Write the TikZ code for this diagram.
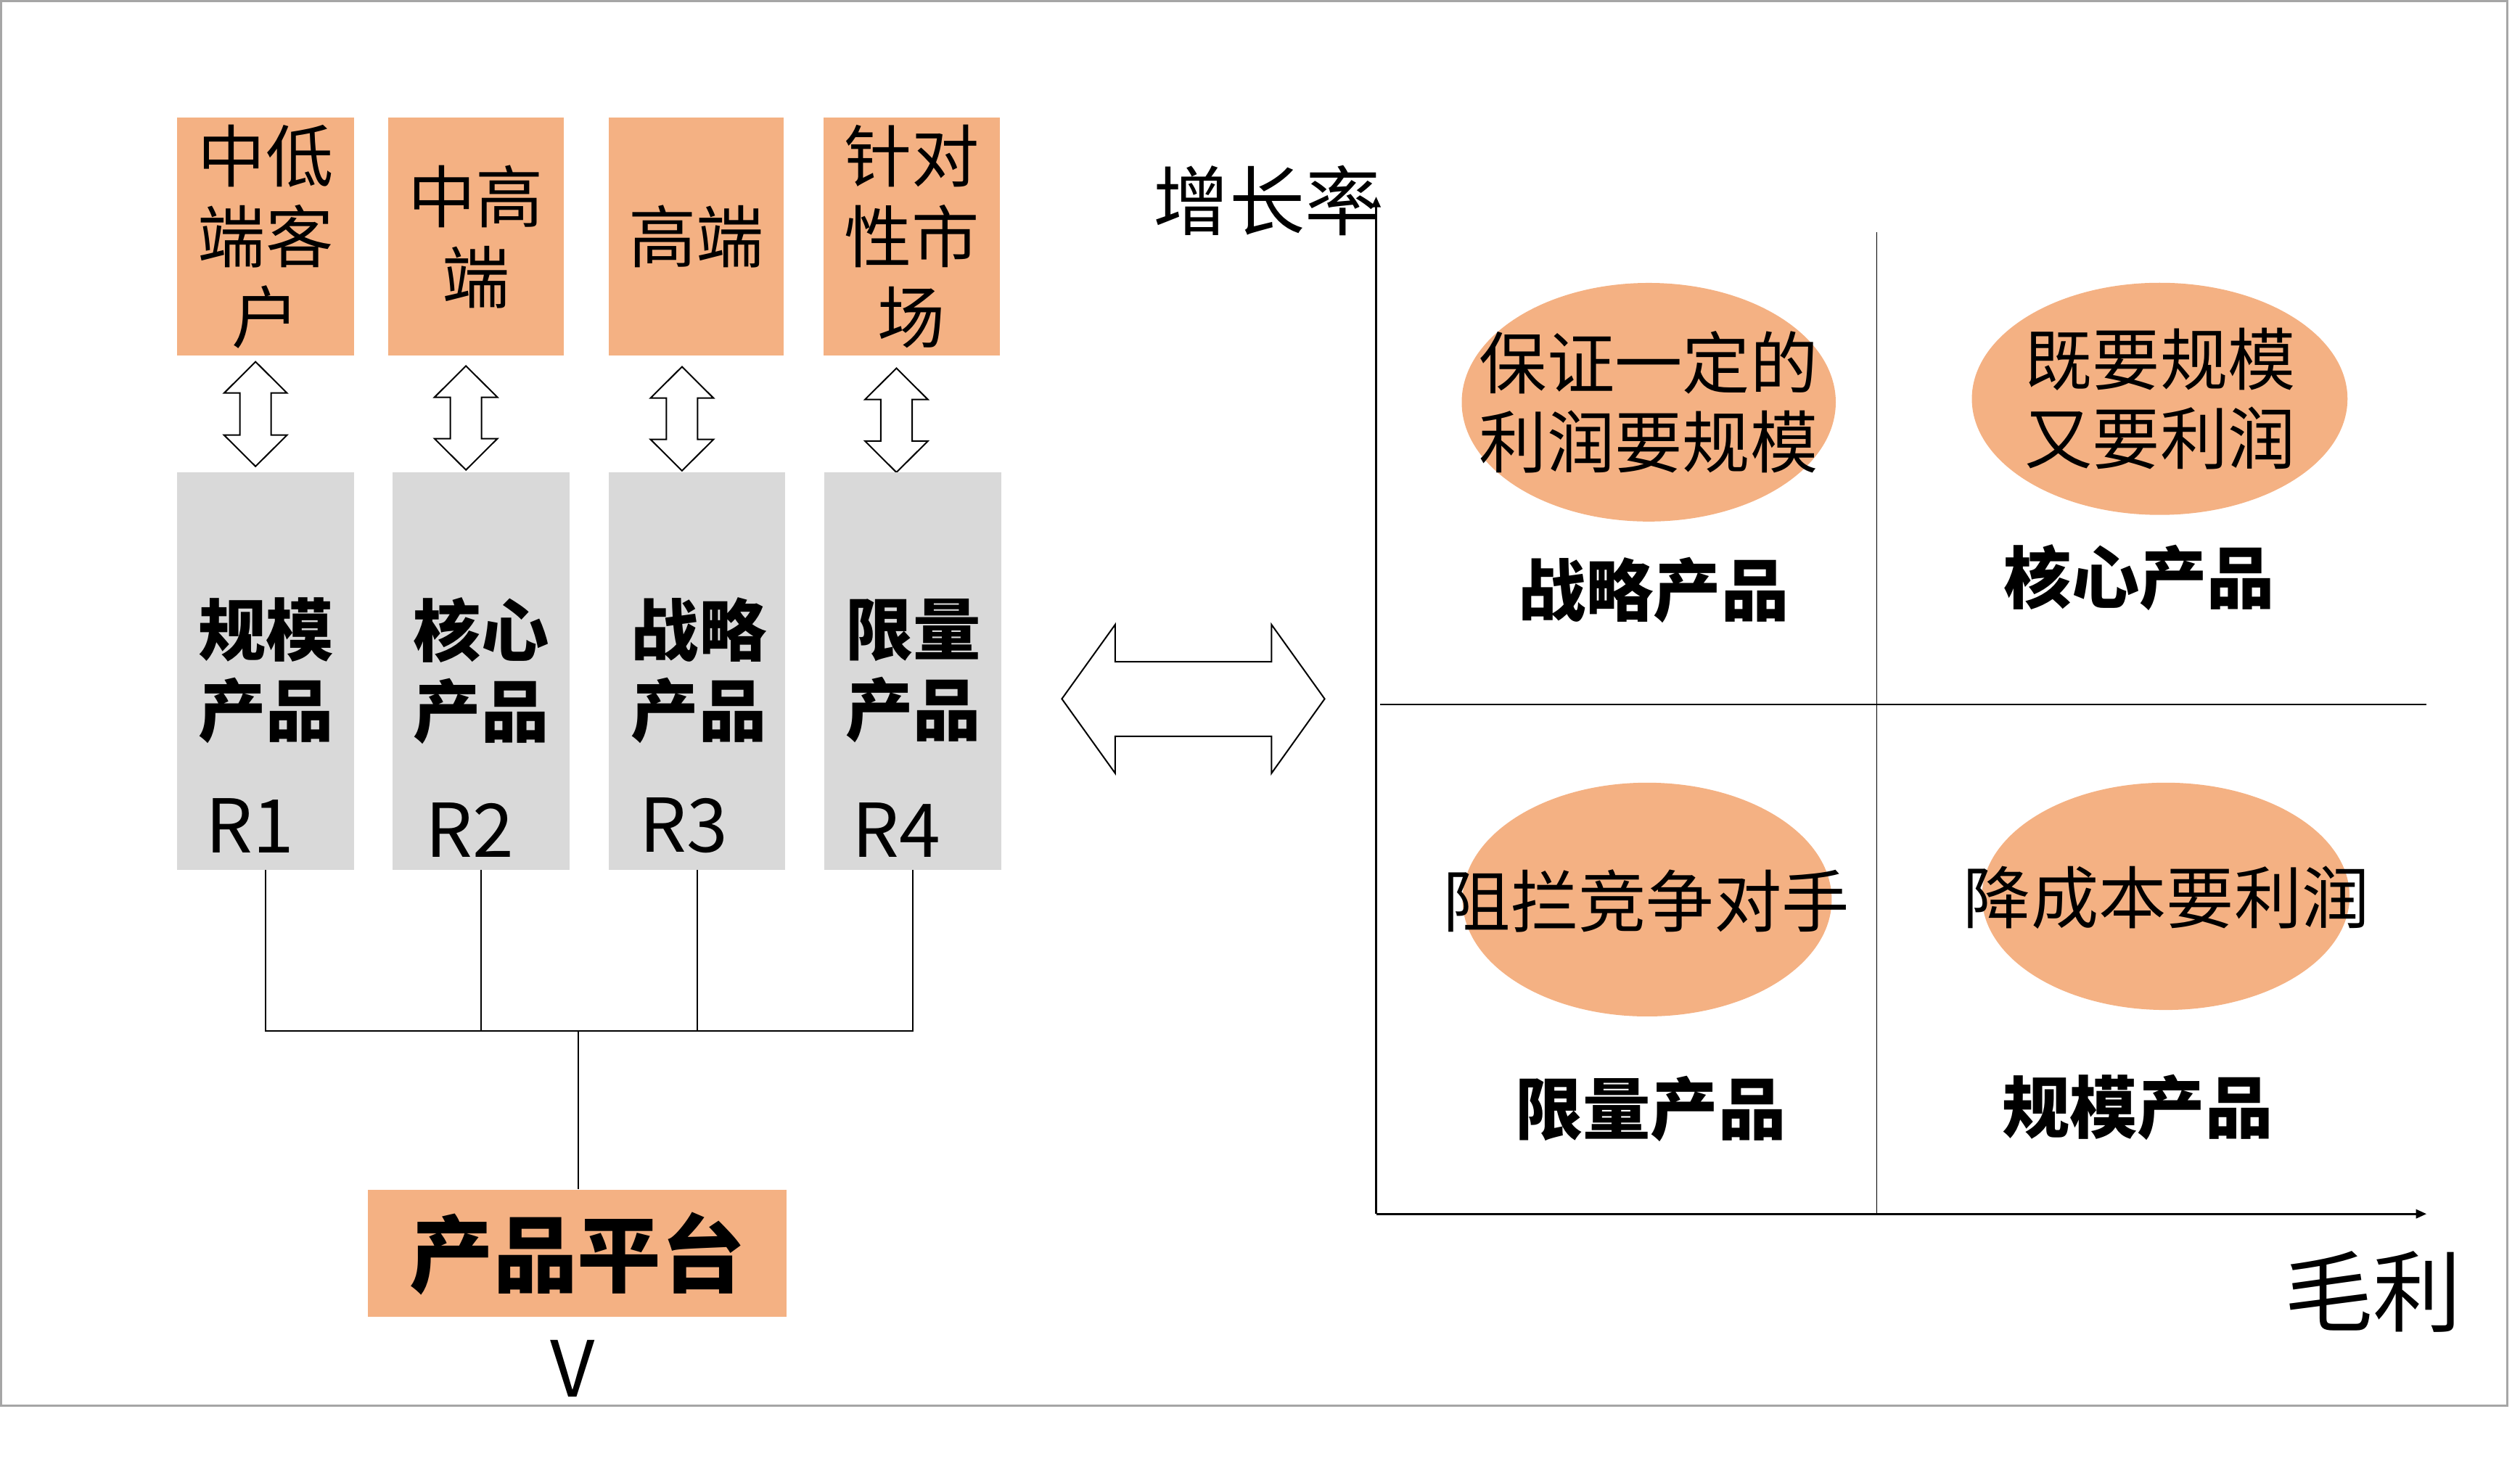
\documentclass[tikz,border=0pt]{standalone}
\usepackage{fontspec}
\setmainfont{Noto Sans CJK SC}
\usetikzlibrary{shapes.geometric,arrows.meta}
\definecolor{orng}{HTML}{F4B183}
\definecolor{grayb}{HTML}{D9D9D9}
\definecolor{framec}{HTML}{A6A6A6}
\newcommand{\myfs}[2]{\fontsize{#1}{#2}\selectfont}
\newcommand{\myvarr}[3]{%
  \draw[hollow] (#1,#2) -- (#1+19.5,#2+19.4) -- (#1+9.7,#2+19.4) -- (#1+9.7,#3-19.4)
    -- (#1+19.5,#3-19.4) -- (#1,#3) -- (#1-19.5,#3-19.4) -- (#1-9.7,#3-19.4)
    -- (#1-9.7,#2+19.4) -- (#1-19.5,#2+19.4) -- cycle;}
\begin{document}
\begin{tikzpicture}[x=1pt,y=-1pt,
  obox/.style={fill=orng, inner sep=0pt, align=center, font={\myfs{42}{50}}},
  gbox/.style={fill=grayb, inner sep=0pt, minimum height=246.5pt},
  glab/.style={inner sep=0pt, align=center, font={\myfs{42}{50}\bfseries}},
  rlab/.style={inner sep=0pt, font={\myfs{46}{50}}},
  hollow/.style={draw=black, fill=white, line width=0.9pt, line join=miter},
  conn/.style={draw=black, line width=0.9pt},
  axis/.style={draw=black, line width=1.2pt, -{Triangle[length=6.5pt,width=5.5pt]}},
  midl/.style={draw=black, line width=0.7pt},
  ell/.style={ellipse, fill=orng, inner sep=0pt},
  etext/.style={inner sep=0pt, align=center, font={\myfs{42}{49}}},
  qlab/.style={inner sep=0pt, font={\myfs{42}{50}\bfseries}}]
\useasboundingbox (0,0) rectangle (1563,905);
% frame
\draw[framec, line width=1.3pt] (0.6,0.6) rectangle (1555.2,872);

% top orange boxes
\node[obox, minimum width=110pt, minimum height=147.6pt] (t1) at (164.8,146.8) {中低\\端客\\户};
\node[obox, minimum width=108.6pt, minimum height=147.6pt] (t2) at (295.2,146.8) {中高\\端};
\node[obox, minimum width=108.7pt, minimum height=147.6pt] (t3) at (431.85,146.8) {高端};
\node[obox, minimum width=109pt, minimum height=147.6pt] (t4) at (565.5,146.8) {针对\\性市\\场};

% vertical double arrows
\myvarr{158.5}{224.4}{289.3}
\myvarr{289}{227}{291.5}
\myvarr{423}{227.5}{292}
\myvarr{556}{228.4}{293}

% gray boxes
\node[gbox, minimum width=110pt] (g1) at (164.8,416.25) {};
\node[gbox, minimum width=109.7pt] (g2) at (298.4,416.25) {};
\node[gbox, minimum width=109.7pt] (g3) at (432.3,416.25) {};
\node[gbox, minimum width=109.7pt] (g4) at (566,416.25) {};
\node[glab] (l1) at (165,416) {规模\\产品};
\node[glab] (l2) at (298.5,416) {核心\\产品};
\node[glab] (l3) at (433.5,416) {战略\\产品};
\node[glab] (l4) at (566.5,416) {限量\\产品};
\node[rlab] (r1) at (155,512) {R1};
\node[rlab] (r2) at (291.5,515) {R2};
\node[rlab] (r3) at (424,512) {R3};
\node[rlab] (r4) at (556,515) {R4};

% platform
\node[obox, minimum width=259.8pt, minimum height=79pt, font={\myfs{52}{56}\bfseries}] (plat) at (358.1,777.5) {产品平台};
\node[rlab, font={\myfs{48}{50}}] (v) at (355,849) {V};

% tree connectors
\coordinate (jn) at (358.6,639.5);
\draw[conn] (g1.south) -- (g1.south |- jn) -- (g4.south |- jn) -- (g4.south);
\draw[conn] (g2.south) -- (g2.south |- jn);
\draw[conn] (g3.south) -- (g3.south |- jn);
\draw[conn] (jn) -- (jn |- plat.north);

% big horizontal double arrow
\draw[hollow] (658.6,433.5) -- (691.7,387.4) -- (691.7,410.5) -- (788.6,410.5) -- (788.6,387.4)
  -- (821.6,433.5) -- (788.6,479.7) -- (788.6,456.7) -- (691.7,456.7) -- (691.7,479.7) -- cycle;

% axes
\coordinate (O) at (853.5,753);
\coordinate (ytip) at (853.5,122);
\coordinate (xtip) at (1505,753);
\draw[axis] (O) -- (ytip);
\draw[axis] (O) -- (xtip);
\coordinate (vt) at (1164,144);
\coordinate (vb) at (1164,753);
\coordinate (hl) at (856,437);
\coordinate (hr) at (1505,437);
\draw[midl] (vt) -- (vb);
\draw[midl] (hl) -- (hr);
\node[inner sep=0pt, font={\myfs{47}{50}}] (ylab) at (786,124.5) {增长率};
\node[inner sep=0pt, font={\myfs{55}{60}}] (xlab) at (1472,801.5) {毛利};

% ellipses
\node[ell, minimum width=232pt, minimum height=148pt] (e1) at (1022.6,249.5) {};
\node[ell, minimum width=233pt, minimum height=144pt] (e2) at (1339.5,247.4) {};
\node[ell, minimum width=229pt, minimum height=145pt] (e3) at (1021.6,558) {};
\node[ell, minimum width=228pt, minimum height=141pt] (e4) at (1343.3,556) {};
\node[etext] (et1) at (1022.6,249.5) {保证一定的\\利润要规模};
\node[etext] (et2) at (1339.8,247.5) {既要规模\\又要利润};
\node[etext] (et3) at (1021,558.7) {阻拦竞争对手};
\node[etext] (et4) at (1343.7,556.7) {降成本要利润};

% quadrant labels
\node[qlab] (q1) at (1025.6,366) {战略产品};
\node[qlab] (q2) at (1327,358.5) {核心产品};
\node[qlab] (q3) at (1023.8,687.7) {限量产品};
\node[qlab] (q4) at (1325.8,687) {规模产品};
\end{tikzpicture}
\end{document}
